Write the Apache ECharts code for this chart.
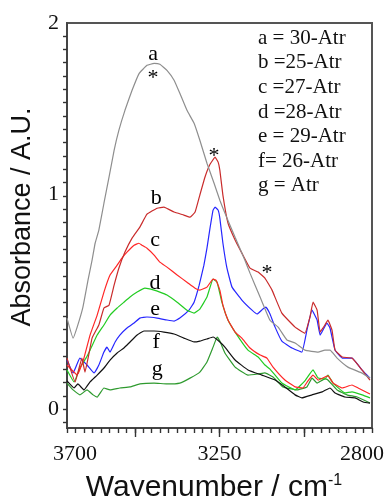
<!DOCTYPE html>
<html>
<head>
<meta charset="utf-8">
<script src="https://cdn.jsdelivr.net/npm/echarts@6/dist/echarts.min.js"></script>
<style>
  html, body { margin: 0; padding: 0; background: #fff; }
  #main { width: 391px; height: 503px; }
</style>
</head>
<body>
<div id="main"></div>
<script>
// spectra: [wavenumber, absorbance]
const curveA = [[3700,0.424],[3682,0.331],[3670,0.382],[3653,0.475],[3638,0.600],[3626,0.693],[3617,0.772],[3606,0.833],[3591,0.958],[3576,1.079],[3561,1.204],[3547,1.297],[3529,1.390],[3508,1.483],[3487,1.562],[3464,1.599],[3443,1.608],[3426,1.604],[3405,1.576],[3384,1.530],[3367,1.469],[3346,1.390],[3325,1.330],[3308,1.251],[3287,1.144],[3266,1.051],[3249,0.972],[3234,0.912],[3204,0.800],[3175,0.693],[3160,0.633],[3130,0.521],[3101,0.414],[3077,0.382],[3051,0.322],[3027,0.308],[2998,0.275],[2959,0.266],[2939,0.275],[2924,0.275],[2903,0.238],[2871,0.196],[2829,0.168],[2806,0.145]]
const curveB = [[3700,0.238],[3676,0.127],[3656,0.238],[3647,0.173],[3626,0.331],[3606,0.392],[3591,0.471],[3576,0.484],[3561,0.577],[3547,0.656],[3529,0.731],[3508,0.796],[3485,0.847],[3464,0.907],[3434,0.935],[3414,0.940],[3384,0.917],[3355,0.903],[3337,0.893],[3322,0.917],[3308,0.996],[3293,1.079],[3278,1.139],[3263,1.172],[3254,1.149],[3249,1.112],[3240,0.996],[3225,0.866],[3204,0.787],[3184,0.726],[3160,0.656],[3136,0.638],[3116,0.610],[3095,0.554],[3066,0.447],[3027,0.382],[2998,0.354],[2983,0.429],[2974,0.498],[2962,0.461],[2953,0.359],[2939,0.392],[2930,0.415],[2918,0.368],[2909,0.275],[2888,0.243],[2859,0.238],[2829,0.182],[2806,0.136]]
const curveC = [[3700,0.206],[3670,0.160],[3650,0.238],[3632,0.345],[3611,0.438],[3591,0.545],[3573,0.624],[3552,0.670],[3538,0.703],[3523,0.731],[3502,0.763],[3488,0.772],[3479,0.763],[3464,0.749],[3443,0.717],[3426,0.684],[3405,0.661],[3375,0.624],[3346,0.591],[3322,0.563],[3308,0.554],[3287,0.568],[3269,0.605],[3260,0.600],[3249,0.554],[3240,0.484],[3225,0.415],[3204,0.359],[3184,0.331],[3160,0.285],[3130,0.252],[3110,0.238],[3092,0.196],[3057,0.136],[3027,0.104],[3004,0.099],[2989,0.132],[2974,0.159],[2959,0.136],[2939,0.150],[2930,0.155],[2915,0.122],[2888,0.099],[2859,0.113],[2841,0.099],[2806,0.071]]
const curveD = [[3700,0.183],[3679,0.127],[3662,0.192],[3644,0.238],[3632,0.275],[3611,0.345],[3591,0.392],[3573,0.438],[3552,0.471],[3532,0.498],[3514,0.522],[3493,0.545],[3470,0.563],[3443,0.554],[3426,0.545],[3405,0.531],[3375,0.498],[3346,0.461],[3325,0.447],[3308,0.466],[3287,0.522],[3269,0.605],[3257,0.591],[3243,0.498],[3225,0.415],[3204,0.359],[3166,0.275],[3136,0.243],[3116,0.206],[3101,0.187],[3066,0.122],[3027,0.090],[2998,0.132],[2974,0.183],[2959,0.145],[2939,0.141],[2930,0.159],[2915,0.122],[2880,0.076],[2859,0.081],[2829,0.067],[2806,0.053]]
const curveE = [[3700,0.229],[3682,0.169],[3662,0.238],[3641,0.206],[3620,0.169],[3606,0.206],[3591,0.266],[3582,0.289],[3573,0.266],[3558,0.313],[3544,0.345],[3523,0.378],[3502,0.401],[3485,0.424],[3464,0.429],[3434,0.424],[3405,0.415],[3384,0.410],[3367,0.424],[3340,0.461],[3325,0.498],[3310,0.577],[3296,0.670],[3287,0.749],[3278,0.842],[3269,0.926],[3263,0.940],[3254,0.926],[3249,0.889],[3240,0.773],[3228,0.656],[3213,0.568],[3184,0.508],[3154,0.461],[3139,0.443],[3122,0.466],[3113,0.475],[3101,0.443],[3086,0.382],[3066,0.317],[3036,0.285],[3007,0.266],[2992,0.368],[2977,0.461],[2962,0.415],[2953,0.345],[2933,0.401],[2924,0.378],[2909,0.275],[2888,0.238],[2859,0.238],[2829,0.182],[2806,0.145]]
const curveF = [[3700,0.132],[3679,0.099],[3668,0.118],[3650,0.090],[3632,0.127],[3611,0.159],[3591,0.192],[3573,0.229],[3552,0.262],[3532,0.285],[3514,0.313],[3493,0.345],[3473,0.364],[3443,0.364],[3414,0.359],[3384,0.350],[3355,0.331],[3325,0.313],[3308,0.317],[3287,0.327],[3269,0.336],[3249,0.313],[3234,0.289],[3204,0.229],[3166,0.183],[3125,0.159],[3086,0.136],[3057,0.104],[3027,0.067],[3007,0.053],[2977,0.067],[2947,0.081],[2924,0.099],[2909,0.076],[2880,0.057],[2850,0.053],[2826,0.034],[2806,0.029]]
const curveG = [[3700,0.122],[3682,0.090],[3662,0.067],[3641,0.090],[3623,0.067],[3611,0.057],[3591,0.099],[3573,0.090],[3544,0.099],[3514,0.104],[3485,0.118],[3443,0.122],[3405,0.118],[3367,0.122],[3337,0.145],[3308,0.173],[3287,0.220],[3269,0.289],[3257,0.336],[3249,0.317],[3234,0.262],[3204,0.196],[3166,0.159],[3136,0.164],[3116,0.169],[3092,0.150],[3063,0.104],[3021,0.090],[2992,0.104],[2977,0.145],[2962,0.122],[2939,0.141],[2930,0.136],[2903,0.090],[2874,0.067],[2844,0.057],[2806,0.029]]

const seriesNames = ['a', 'b', 'c', 'd', 'e', 'f', 'g']
const seriesColors = ['#8e8e8e', '#c92b2b', '#ff2626', '#22cc22', '#2626ff', '#111111', '#2e9a2e']
const curves = [curveA, curveB, curveC, curveD, curveE, curveF, curveG]

// curve tags: [series index, wavenumber, absorbance, text]
const tags = [
  [0, 3446, 1.652, 'a'], [0, 3446, 1.539, '*'],
  [1, 3437, 0.981, 'b'], [1, 3266, 1.176, '*'], [1, 3110, 0.633, '*'],
  [2, 3440, 0.786, 'c'],
  [3, 3440, 0.586, 'd'],
  [4, 3440, 0.466, 'e'],
  [5, 3437, 0.313, 'f'],
  [6, 3434, 0.187, 'g']
]

const legendLines = ['a = 30-Atr', 'b =25-Atr', 'c =27-Atr', 'd =28-Atr', 'e = 29-Atr', 'f= 26-Atr', 'g = Atr']

const xLabelValues = [3700, 3250, 2800]
const xMajorTicks = [3500, 3250, 3000]
const yLabelValues = [0, 1, 1.796]
const yLabelText = ['0', '1', '2']

const xMinorTicks = []
for (let v = 2800; v <= 3700; v += 25) xMinorTicks.push(v)
const yTicks = []
for (let k = -1; k <= 29; k++) yTicks.push(+(k * 0.062).toFixed(3))

const serif = 'Liberation Serif'
const sans = 'Liberation Sans'

const chart = echarts.init(document.getElementById('main'))

const series = curves.map((data, i) => ({
  name: seriesNames[i],
  type: 'line',
  data,
  xAxisIndex: 0,
  yAxisIndex: 0,
  showSymbol: false,
  smooth: 0.1,
  lineStyle: { color: seriesColors[i], width: 1.2 },
  z: 10 - i,
  markPoint: {
    symbolSize: 0,
    silent: true,
    label: { show: true, position: 'inside', color: '#000', fontFamily: serif, fontSize: 22 },
    data: tags.filter(t => t[0] === i).map(t => ({
      coord: [t[1], t[2]],
      label: { formatter: t[3] }
    }))
  }
}))

const axisLineStyle = { color: '#444', width: 2 }
const tickStyle = { color: '#333', width: 1.4 }
const gridRect = { left: 67, top: 23, right: 19, bottom: 75 }

const option = {
  animation: false,
  backgroundColor: '#fff',
  grid: [
    Object.assign({ show: true, borderColor: '#555', borderWidth: 2, backgroundColor: 'transparent' }, gridRect),
    Object.assign({ show: false }, gridRect)
  ],
  xAxis: [
    {
      type: 'value', gridIndex: 0, min: 2800, max: 3700, inverse: true, position: 'bottom',
      axisLine: { show: true, onZero: false, lineStyle: axisLineStyle },
      axisTick: { show: true, inside: false, length: 5, customValues: xMinorTicks, lineStyle: tickStyle },
      axisLabel: {
        customValues: xLabelValues,
        margin: 15,
        color: '#111', fontFamily: serif, fontSize: 22,
        formatter: v => v === 3700 ? '{l|3700}' : v === 2800 ? '{r|2800}' : String(v),
        rich: {
          l: { fontFamily: serif, fontSize: 22, color: '#111', padding: [0, 0, 0, 16] },
          r: { fontFamily: serif, fontSize: 22, color: '#111', padding: [0, 20, 0, 0] }
        }
      },
      splitLine: { show: false }
    },
    {
      // second copy of the axis on an overlaid grid, only for the longer major ticks
      type: 'value', gridIndex: 1, min: 2800, max: 3700, inverse: true, position: 'bottom',
      axisLine: { show: true, onZero: false, lineStyle: { color: 'rgba(0,0,0,0)' } },
      axisTick: { show: true, inside: false, length: 9, customValues: xMajorTicks, lineStyle: tickStyle },
      axisLabel: { show: false },
      splitLine: { show: false }
    }
  ],
  yAxis: [
    {
      type: 'value', gridIndex: 0, min: -0.087, max: 1.796,
      axisLine: { show: true, onZero: false, lineStyle: axisLineStyle },
      axisTick: { show: true, inside: false, length: 4, customValues: yTicks, lineStyle: tickStyle },
      axisLabel: {
        customValues: yLabelValues,
        showMinLabel: true, showMaxLabel: true,
        margin: 8,
        color: '#111', fontFamily: serif, fontSize: 22,
        formatter: v => yLabelText[yLabelValues.indexOf(v)]
      },
      splitLine: { show: false }
    },
    {
      type: 'value', gridIndex: 1, min: -0.087, max: 1.796, show: false
    }
  ],
  graphic: [
    {
      type: 'text', x: 23, y: 217, rotation: Math.PI / 2,
      style: { text: 'Absorbance / A.U.', fontFamily: sans, fontSize: 27, fill: '#111', align: 'center', verticalAlign: 'middle' }
    },
    {
      type: 'text', x: 214, y: 488,
      style: {
        text: '{m|Wavenumber / cm}{s|-1}',
        align: 'center', verticalAlign: 'middle', fill: '#111',
        rich: {
          m: { fontFamily: sans, fontSize: 30, fill: '#111' },
          s: { fontFamily: sans, fontSize: 16, fill: '#111', verticalAlign: 'top' }
        }
      }
    },
    {
      type: 'text', x: 258, y: 26,
      style: { text: legendLines.join('\n'), fontFamily: serif, fontSize: 21, lineHeight: 24.6, fill: '#111', align: 'left', verticalAlign: 'top' }
    }
  ],
  series
}

chart.setOption(option)
</script>
</body>
</html>
